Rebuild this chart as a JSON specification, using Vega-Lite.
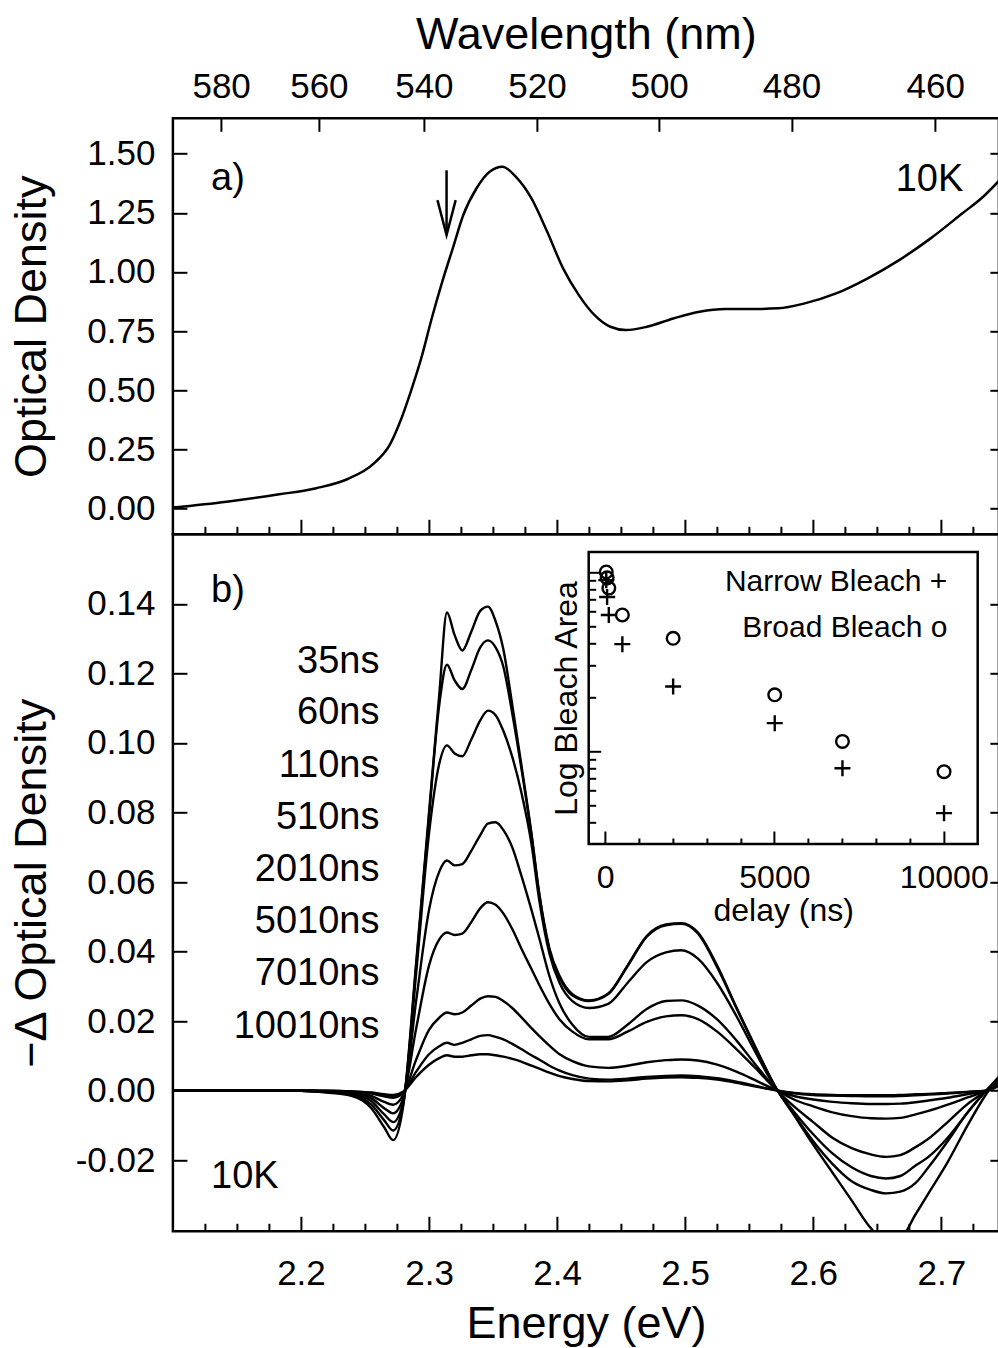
{
"$schema":"https://vega.github.io/schema/vega-lite/v6.json",
"background":"white",
"padding":{"left":7.9,"top":10.3,"right":0,"bottom":0},
"spacing":0,
"bounds":"flush",
"config":{
 "font":"Liberation Sans",
 "view":{"stroke":"black","strokeWidth":2.5},
 "axis":{"grid":false,"domain":false,"labelFont":"Liberation Sans","labelFontSize":35,"labelColor":"black","tickColor":"black","tickWidth":2,"titleFont":"Liberation Sans","titleFontSize":45,"titleFontWeight":"normal","titleColor":"black","labelFlush":false,"labelOverlap":false,"labelBound":false},
 "text":{"font":"Liberation Sans","color":"black"}
},
"datasets":{
 "abs":[{"e":2.1,"od":0.003},{"e":2.142,"od":0.028},{"e":2.183,"od":0.059},{"e":2.212,"od":0.085},{"e":2.2365,"od":0.124},{"e":2.257,"od":0.19},{"e":2.2693,"od":0.268},{"e":2.2775,"od":0.367},{"e":2.2857,"od":0.493},{"e":2.2939,"od":0.634},{"e":2.3021,"od":0.803},{"e":2.3103,"od":0.958},{"e":2.3185,"od":1.099},{"e":2.3267,"od":1.24},{"e":2.337,"od":1.353},{"e":2.3473,"od":1.424},{"e":2.3574,"od":1.445},{"e":2.3677,"od":1.403},{"e":2.38,"od":1.311},{"e":2.3923,"od":1.17},{"e":2.4047,"od":1.015},{"e":2.417,"od":0.902},{"e":2.4293,"od":0.817},{"e":2.4416,"od":0.768},{"e":2.4538,"od":0.754},{"e":2.4702,"od":0.768},{"e":2.4908,"od":0.803},{"e":2.5113,"od":0.832},{"e":2.5318,"od":0.843},{"e":2.5523,"od":0.843},{"e":2.5728,"od":0.846},{"e":2.5934,"od":0.867},{"e":2.6179,"od":0.909},{"e":2.6426,"od":0.973},{"e":2.6671,"od":1.05},{"e":2.6917,"od":1.142},{"e":2.7163,"od":1.247},{"e":2.7327,"od":1.318},{"e":2.745,"od":1.385}],
 "arrow":[{"e":2.3137,"top":1.43,"tip":1.156}],
 "annAL":[{"label":"a)","x":2.1298,"y":1.395}],
 "annAR":[{"label":"10K","x":2.7172,"y":1.387}],
 "nsLab":[{"label":"35ns","x":2.2613,"y":0.1234},{"label":"60ns","x":2.2613,"y":0.1085},{"label":"110ns","x":2.2613,"y":0.0933},{"label":"510ns","x":2.2613,"y":0.0783},{"label":"2010ns","x":2.2613,"y":0.0634},{"label":"5010ns","x":2.2613,"y":0.0484},{"label":"7010ns","x":2.2613,"y":0.0335},{"label":"10010ns","x":2.2613,"y":0.0182}],
 "bLab":[{"label":"b)","x":2.1298,"y":0.1438},{"label":"10K","x":2.1298,"y":-0.0248}],
 "ins":[{"s":"Broad","d":35,"a":10.0},{"s":"Broad","d":60,"a":9.27},{"s":"Broad","d":110,"a":8.13},{"s":"Broad","d":510,"a":5.75},{"s":"Broad","d":2010,"a":4.26},{"s":"Broad","d":5010,"a":2.06},{"s":"Broad","d":7010,"a":1.13},{"s":"Broad","d":10010,"a":0.766},{"s":"Narrow","d":35,"a":9.0},{"s":"Narrow","d":60,"a":7.25},{"s":"Narrow","d":110,"a":5.75},{"s":"Narrow","d":510,"a":3.95},{"s":"Narrow","d":2010,"a":2.29},{"s":"Narrow","d":5010,"a":1.43},{"s":"Narrow","d":7010,"a":0.8},{"s":"Narrow","d":10010,"a":0.449}],
 "insLab":[{"label":"Narrow Bleach +","d":10109,"a":8.83},{"label":"Broad Bleach o","d":10109,"a":4.87}],
 "spec":[
{"t":"35ns","e":2.1,"v":0},{"t":"35ns","e":2.15,"v":0},{"t":"35ns","e":2.2,"v":0},{"t":"35ns","e":2.22,"v":-0.0005},{"t":"35ns","e":2.24,"v":-0.0015},{"t":"35ns","e":2.255,"v":-0.005},{"t":"35ns","e":2.265,"v":-0.0105},{"t":"35ns","e":2.272,"v":-0.0142},{"t":"35ns","e":2.28,"v":-0.004},{"t":"35ns","e":2.29,"v":0.037},{"t":"35ns","e":2.3,"v":0.08},{"t":"35ns","e":2.308,"v":0.114},{"t":"35ns","e":2.314,"v":0.1375},{"t":"35ns","e":2.32,"v":0.131},{"t":"35ns","e":2.326,"v":0.1266},{"t":"35ns","e":2.333,"v":0.132},{"t":"35ns","e":2.34,"v":0.138},{"t":"35ns","e":2.346,"v":0.1392},{"t":"35ns","e":2.352,"v":0.135},{"t":"35ns","e":2.358,"v":0.127},{"t":"35ns","e":2.365,"v":0.111},{"t":"35ns","e":2.372,"v":0.094},{"t":"35ns","e":2.38,"v":0.074},{"t":"35ns","e":2.386,"v":0.057},{"t":"35ns","e":2.394,"v":0.041},{"t":"35ns","e":2.402,"v":0.033},{"t":"35ns","e":2.412,"v":0.0278},{"t":"35ns","e":2.425,"v":0.026},{"t":"35ns","e":2.44,"v":0.028},{"t":"35ns","e":2.455,"v":0.036},{"t":"35ns","e":2.47,"v":0.0445},{"t":"35ns","e":2.485,"v":0.0478},{"t":"35ns","e":2.497,"v":0.0482},{"t":"35ns","e":2.51,"v":0.0455},{"t":"35ns","e":2.525,"v":0.036},{"t":"35ns","e":2.54,"v":0.024},{"t":"35ns","e":2.555,"v":0.0125},{"t":"35ns","e":2.57,"v":0.0015},{"t":"35ns","e":2.585,"v":-0.007},{"t":"35ns","e":2.6,"v":-0.0155},{"t":"35ns","e":2.615,"v":-0.0235},{"t":"35ns","e":2.63,"v":-0.0315},{"t":"35ns","e":2.645,"v":-0.0395},{"t":"35ns","e":2.657,"v":-0.0435},{"t":"35ns","e":2.668,"v":-0.0425},{"t":"35ns","e":2.68,"v":-0.0355},{"t":"35ns","e":2.69,"v":-0.0295},{"t":"35ns","e":2.705,"v":-0.0205},{"t":"35ns","e":2.72,"v":-0.0103},{"t":"35ns","e":2.735,"v":-0.001},{"t":"35ns","e":2.745,"v":0.004},
{"t":"60ns","e":2.1,"v":0},{"t":"60ns","e":2.15,"v":0},{"t":"60ns","e":2.2,"v":0},{"t":"60ns","e":2.22,"v":-0.0004},{"t":"60ns","e":2.24,"v":-0.0012},{"t":"60ns","e":2.255,"v":-0.004},{"t":"60ns","e":2.265,"v":-0.0085},{"t":"60ns","e":2.272,"v":-0.0114},{"t":"60ns","e":2.28,"v":-0.0035},{"t":"60ns","e":2.29,"v":0.036},{"t":"60ns","e":2.3,"v":0.079},{"t":"60ns","e":2.308,"v":0.111},{"t":"60ns","e":2.314,"v":0.1225},{"t":"60ns","e":2.32,"v":0.118},{"t":"60ns","e":2.326,"v":0.1155},{"t":"60ns","e":2.333,"v":0.121},{"t":"60ns","e":2.34,"v":0.1275},{"t":"60ns","e":2.346,"v":0.1295},{"t":"60ns","e":2.352,"v":0.1275},{"t":"60ns","e":2.358,"v":0.122},{"t":"60ns","e":2.365,"v":0.1085},{"t":"60ns","e":2.372,"v":0.093},{"t":"60ns","e":2.38,"v":0.0735},{"t":"60ns","e":2.386,"v":0.0565},{"t":"60ns","e":2.394,"v":0.0405},{"t":"60ns","e":2.402,"v":0.0325},{"t":"60ns","e":2.412,"v":0.0274},{"t":"60ns","e":2.425,"v":0.0258},{"t":"60ns","e":2.44,"v":0.0278},{"t":"60ns","e":2.455,"v":0.0358},{"t":"60ns","e":2.47,"v":0.0443},{"t":"60ns","e":2.485,"v":0.0476},{"t":"60ns","e":2.497,"v":0.048},{"t":"60ns","e":2.51,"v":0.0452},{"t":"60ns","e":2.525,"v":0.0355},{"t":"60ns","e":2.54,"v":0.0238},{"t":"60ns","e":2.555,"v":0.0122},{"t":"60ns","e":2.57,"v":0.0013},{"t":"60ns","e":2.585,"v":-0.0068},{"t":"60ns","e":2.6,"v":-0.0145},{"t":"60ns","e":2.615,"v":-0.021},{"t":"60ns","e":2.63,"v":-0.026},{"t":"60ns","e":2.645,"v":-0.0285},{"t":"60ns","e":2.657,"v":-0.0295},{"t":"60ns","e":2.668,"v":-0.029},{"t":"60ns","e":2.68,"v":-0.0265},{"t":"60ns","e":2.69,"v":-0.022},{"t":"60ns","e":2.705,"v":-0.0145},{"t":"60ns","e":2.72,"v":-0.0065},{"t":"60ns","e":2.735,"v":0},{"t":"60ns","e":2.745,"v":0.004},
{"t":"110ns","e":2.1,"v":0},{"t":"110ns","e":2.15,"v":0},{"t":"110ns","e":2.2,"v":0},{"t":"110ns","e":2.22,"v":-0.0003},{"t":"110ns","e":2.24,"v":-0.001},{"t":"110ns","e":2.255,"v":-0.003},{"t":"110ns","e":2.265,"v":-0.0068},{"t":"110ns","e":2.272,"v":-0.009},{"t":"110ns","e":2.28,"v":-0.003},{"t":"110ns","e":2.29,"v":0.034},{"t":"110ns","e":2.3,"v":0.074},{"t":"110ns","e":2.308,"v":0.094},{"t":"110ns","e":2.314,"v":0.0993},{"t":"110ns","e":2.32,"v":0.097},{"t":"110ns","e":2.326,"v":0.0962},{"t":"110ns","e":2.333,"v":0.101},{"t":"110ns","e":2.34,"v":0.1065},{"t":"110ns","e":2.346,"v":0.1093},{"t":"110ns","e":2.352,"v":0.108},{"t":"110ns","e":2.358,"v":0.1035},{"t":"110ns","e":2.365,"v":0.096},{"t":"110ns","e":2.372,"v":0.086},{"t":"110ns","e":2.38,"v":0.071},{"t":"110ns","e":2.386,"v":0.055},{"t":"110ns","e":2.394,"v":0.0395},{"t":"110ns","e":2.402,"v":0.031},{"t":"110ns","e":2.412,"v":0.0258},{"t":"110ns","e":2.425,"v":0.0238},{"t":"110ns","e":2.44,"v":0.025},{"t":"110ns","e":2.455,"v":0.031},{"t":"110ns","e":2.47,"v":0.037},{"t":"110ns","e":2.485,"v":0.0398},{"t":"110ns","e":2.497,"v":0.0404},{"t":"110ns","e":2.51,"v":0.038},{"t":"110ns","e":2.525,"v":0.031},{"t":"110ns","e":2.54,"v":0.0215},{"t":"110ns","e":2.555,"v":0.011},{"t":"110ns","e":2.57,"v":0.0012},{"t":"110ns","e":2.585,"v":-0.006},{"t":"110ns","e":2.6,"v":-0.0125},{"t":"110ns","e":2.615,"v":-0.018},{"t":"110ns","e":2.63,"v":-0.022},{"t":"110ns","e":2.645,"v":-0.0245},{"t":"110ns","e":2.657,"v":-0.0252},{"t":"110ns","e":2.668,"v":-0.0245},{"t":"110ns","e":2.68,"v":-0.0215},{"t":"110ns","e":2.69,"v":-0.019},{"t":"110ns","e":2.705,"v":-0.0135},{"t":"110ns","e":2.72,"v":-0.0065},{"t":"110ns","e":2.735,"v":0},{"t":"110ns","e":2.745,"v":0.003},
{"t":"510ns","e":2.1,"v":0},{"t":"510ns","e":2.15,"v":0},{"t":"510ns","e":2.2,"v":0},{"t":"510ns","e":2.22,"v":-0.0002},{"t":"510ns","e":2.24,"v":-0.0008},{"t":"510ns","e":2.255,"v":-0.0022},{"t":"510ns","e":2.265,"v":-0.005},{"t":"510ns","e":2.272,"v":-0.0065},{"t":"510ns","e":2.28,"v":-0.002},{"t":"510ns","e":2.29,"v":0.026},{"t":"510ns","e":2.3,"v":0.052},{"t":"510ns","e":2.308,"v":0.063},{"t":"510ns","e":2.314,"v":0.0662},{"t":"510ns","e":2.32,"v":0.0648},{"t":"510ns","e":2.326,"v":0.0652},{"t":"510ns","e":2.333,"v":0.069},{"t":"510ns","e":2.34,"v":0.0735},{"t":"510ns","e":2.346,"v":0.0768},{"t":"510ns","e":2.352,"v":0.0772},{"t":"510ns","e":2.358,"v":0.075},{"t":"510ns","e":2.365,"v":0.07},{"t":"510ns","e":2.372,"v":0.062},{"t":"510ns","e":2.38,"v":0.052},{"t":"510ns","e":2.386,"v":0.044},{"t":"510ns","e":2.394,"v":0.033},{"t":"510ns","e":2.402,"v":0.025},{"t":"510ns","e":2.412,"v":0.019},{"t":"510ns","e":2.425,"v":0.0155},{"t":"510ns","e":2.44,"v":0.0155},{"t":"510ns","e":2.455,"v":0.019},{"t":"510ns","e":2.47,"v":0.0235},{"t":"510ns","e":2.485,"v":0.0258},{"t":"510ns","e":2.497,"v":0.026},{"t":"510ns","e":2.51,"v":0.0245},{"t":"510ns","e":2.525,"v":0.0205},{"t":"510ns","e":2.54,"v":0.0145},{"t":"510ns","e":2.555,"v":0.0075},{"t":"510ns","e":2.57,"v":0.0008},{"t":"510ns","e":2.585,"v":-0.0045},{"t":"510ns","e":2.6,"v":-0.009},{"t":"510ns","e":2.615,"v":-0.0135},{"t":"510ns","e":2.63,"v":-0.0165},{"t":"510ns","e":2.645,"v":-0.0183},{"t":"510ns","e":2.657,"v":-0.019},{"t":"510ns","e":2.668,"v":-0.0185},{"t":"510ns","e":2.68,"v":-0.0162},{"t":"510ns","e":2.69,"v":-0.0138},{"t":"510ns","e":2.705,"v":-0.009},{"t":"510ns","e":2.72,"v":-0.004},{"t":"510ns","e":2.735,"v":0},{"t":"510ns","e":2.745,"v":0.003},
{"t":"2010ns","e":2.1,"v":0},{"t":"2010ns","e":2.15,"v":0},{"t":"2010ns","e":2.2,"v":0},{"t":"2010ns","e":2.22,"v":-0.0002},{"t":"2010ns","e":2.24,"v":-0.0006},{"t":"2010ns","e":2.255,"v":-0.0015},{"t":"2010ns","e":2.265,"v":-0.0032},{"t":"2010ns","e":2.272,"v":-0.004},{"t":"2010ns","e":2.28,"v":-0.001},{"t":"2010ns","e":2.29,"v":0.018},{"t":"2010ns","e":2.3,"v":0.036},{"t":"2010ns","e":2.308,"v":0.0435},{"t":"2010ns","e":2.314,"v":0.0455},{"t":"2010ns","e":2.32,"v":0.0448},{"t":"2010ns","e":2.326,"v":0.0452},{"t":"2010ns","e":2.333,"v":0.0485},{"t":"2010ns","e":2.34,"v":0.0525},{"t":"2010ns","e":2.346,"v":0.0542},{"t":"2010ns","e":2.352,"v":0.0535},{"t":"2010ns","e":2.358,"v":0.051},{"t":"2010ns","e":2.365,"v":0.0465},{"t":"2010ns","e":2.372,"v":0.041},{"t":"2010ns","e":2.38,"v":0.035},{"t":"2010ns","e":2.386,"v":0.0305},{"t":"2010ns","e":2.394,"v":0.025},{"t":"2010ns","e":2.402,"v":0.0205},{"t":"2010ns","e":2.412,"v":0.017},{"t":"2010ns","e":2.425,"v":0.0148},{"t":"2010ns","e":2.44,"v":0.0148},{"t":"2010ns","e":2.455,"v":0.017},{"t":"2010ns","e":2.47,"v":0.0198},{"t":"2010ns","e":2.485,"v":0.0214},{"t":"2010ns","e":2.497,"v":0.0217},{"t":"2010ns","e":2.51,"v":0.0206},{"t":"2010ns","e":2.525,"v":0.017},{"t":"2010ns","e":2.54,"v":0.012},{"t":"2010ns","e":2.555,"v":0.0065},{"t":"2010ns","e":2.57,"v":0.0008},{"t":"2010ns","e":2.585,"v":-0.0025},{"t":"2010ns","e":2.6,"v":-0.0045},{"t":"2010ns","e":2.615,"v":-0.0062},{"t":"2010ns","e":2.63,"v":-0.0073},{"t":"2010ns","e":2.645,"v":-0.0079},{"t":"2010ns","e":2.657,"v":-0.008},{"t":"2010ns","e":2.668,"v":-0.0078},{"t":"2010ns","e":2.68,"v":-0.0068},{"t":"2010ns","e":2.69,"v":-0.0058},{"t":"2010ns","e":2.705,"v":-0.004},{"t":"2010ns","e":2.72,"v":-0.002},{"t":"2010ns","e":2.735,"v":0},{"t":"2010ns","e":2.745,"v":0.002},
{"t":"5010ns","e":2.1,"v":0},{"t":"5010ns","e":2.15,"v":0},{"t":"5010ns","e":2.2,"v":0},{"t":"5010ns","e":2.22,"v":-0.0001},{"t":"5010ns","e":2.24,"v":-0.0003},{"t":"5010ns","e":2.255,"v":-0.0008},{"t":"5010ns","e":2.265,"v":-0.0016},{"t":"5010ns","e":2.272,"v":-0.002},{"t":"5010ns","e":2.28,"v":-0.0005},{"t":"5010ns","e":2.29,"v":0.009},{"t":"5010ns","e":2.3,"v":0.0175},{"t":"5010ns","e":2.308,"v":0.021},{"t":"5010ns","e":2.314,"v":0.0225},{"t":"5010ns","e":2.32,"v":0.022},{"t":"5010ns","e":2.326,"v":0.0225},{"t":"5010ns","e":2.333,"v":0.0245},{"t":"5010ns","e":2.34,"v":0.0265},{"t":"5010ns","e":2.346,"v":0.0272},{"t":"5010ns","e":2.352,"v":0.027},{"t":"5010ns","e":2.358,"v":0.0258},{"t":"5010ns","e":2.365,"v":0.0238},{"t":"5010ns","e":2.372,"v":0.0212},{"t":"5010ns","e":2.38,"v":0.018},{"t":"5010ns","e":2.386,"v":0.0158},{"t":"5010ns","e":2.394,"v":0.013},{"t":"5010ns","e":2.402,"v":0.0105},{"t":"5010ns","e":2.412,"v":0.0085},{"t":"5010ns","e":2.425,"v":0.007},{"t":"5010ns","e":2.44,"v":0.0066},{"t":"5010ns","e":2.455,"v":0.0072},{"t":"5010ns","e":2.47,"v":0.0082},{"t":"5010ns","e":2.485,"v":0.0088},{"t":"5010ns","e":2.497,"v":0.009},{"t":"5010ns","e":2.51,"v":0.0087},{"t":"5010ns","e":2.525,"v":0.0075},{"t":"5010ns","e":2.54,"v":0.0055},{"t":"5010ns","e":2.555,"v":0.003},{"t":"5010ns","e":2.57,"v":0.0004},{"t":"5010ns","e":2.585,"v":-0.0015},{"t":"5010ns","e":2.6,"v":-0.0025},{"t":"5010ns","e":2.615,"v":-0.0032},{"t":"5010ns","e":2.63,"v":-0.0036},{"t":"5010ns","e":2.645,"v":-0.0038},{"t":"5010ns","e":2.657,"v":-0.0038},{"t":"5010ns","e":2.668,"v":-0.0037},{"t":"5010ns","e":2.68,"v":-0.0033},{"t":"5010ns","e":2.69,"v":-0.0028},{"t":"5010ns","e":2.705,"v":-0.002},{"t":"5010ns","e":2.72,"v":-0.001},{"t":"5010ns","e":2.735,"v":0},{"t":"5010ns","e":2.745,"v":0.002},
{"t":"7010ns","e":2.1,"v":0},{"t":"7010ns","e":2.15,"v":0},{"t":"7010ns","e":2.2,"v":0},{"t":"7010ns","e":2.22,"v":0},{"t":"7010ns","e":2.24,"v":-0.0002},{"t":"7010ns","e":2.255,"v":-0.0006},{"t":"7010ns","e":2.265,"v":-0.0012},{"t":"7010ns","e":2.272,"v":-0.0015},{"t":"7010ns","e":2.28,"v":-0.0003},{"t":"7010ns","e":2.29,"v":0.0055},{"t":"7010ns","e":2.3,"v":0.0105},{"t":"7010ns","e":2.308,"v":0.0128},{"t":"7010ns","e":2.314,"v":0.0138},{"t":"7010ns","e":2.32,"v":0.0132},{"t":"7010ns","e":2.326,"v":0.0138},{"t":"7010ns","e":2.333,"v":0.0148},{"t":"7010ns","e":2.34,"v":0.0158},{"t":"7010ns","e":2.346,"v":0.016},{"t":"7010ns","e":2.352,"v":0.0155},{"t":"7010ns","e":2.358,"v":0.0148},{"t":"7010ns","e":2.365,"v":0.0135},{"t":"7010ns","e":2.372,"v":0.012},{"t":"7010ns","e":2.38,"v":0.0102},{"t":"7010ns","e":2.386,"v":0.009},{"t":"7010ns","e":2.394,"v":0.0072},{"t":"7010ns","e":2.402,"v":0.0058},{"t":"7010ns","e":2.412,"v":0.0045},{"t":"7010ns","e":2.425,"v":0.0035},{"t":"7010ns","e":2.44,"v":0.0032},{"t":"7010ns","e":2.455,"v":0.0035},{"t":"7010ns","e":2.47,"v":0.004},{"t":"7010ns","e":2.485,"v":0.0043},{"t":"7010ns","e":2.497,"v":0.0044},{"t":"7010ns","e":2.51,"v":0.0042},{"t":"7010ns","e":2.525,"v":0.0036},{"t":"7010ns","e":2.54,"v":0.0026},{"t":"7010ns","e":2.555,"v":0.0014},{"t":"7010ns","e":2.57,"v":0.0002},{"t":"7010ns","e":2.585,"v":-0.0007},{"t":"7010ns","e":2.6,"v":-0.0012},{"t":"7010ns","e":2.615,"v":-0.0014},{"t":"7010ns","e":2.63,"v":-0.0015},{"t":"7010ns","e":2.645,"v":-0.0016},{"t":"7010ns","e":2.657,"v":-0.0016},{"t":"7010ns","e":2.668,"v":-0.0015},{"t":"7010ns","e":2.68,"v":-0.0013},{"t":"7010ns","e":2.69,"v":-0.0011},{"t":"7010ns","e":2.705,"v":-0.0008},{"t":"7010ns","e":2.72,"v":-0.0004},{"t":"7010ns","e":2.735,"v":0},{"t":"7010ns","e":2.745,"v":0.0015},
{"t":"10010ns","e":2.1,"v":0},{"t":"10010ns","e":2.15,"v":0},{"t":"10010ns","e":2.2,"v":0},{"t":"10010ns","e":2.22,"v":0},{"t":"10010ns","e":2.24,"v":-0.0002},{"t":"10010ns","e":2.255,"v":-0.0005},{"t":"10010ns","e":2.265,"v":-0.001},{"t":"10010ns","e":2.272,"v":-0.0012},{"t":"10010ns","e":2.28,"v":-0.0002},{"t":"10010ns","e":2.29,"v":0.004},{"t":"10010ns","e":2.3,"v":0.0075},{"t":"10010ns","e":2.308,"v":0.0094},{"t":"10010ns","e":2.314,"v":0.0102},{"t":"10010ns","e":2.32,"v":0.0098},{"t":"10010ns","e":2.326,"v":0.0098},{"t":"10010ns","e":2.333,"v":0.0102},{"t":"10010ns","e":2.34,"v":0.0105},{"t":"10010ns","e":2.346,"v":0.0105},{"t":"10010ns","e":2.352,"v":0.0102},{"t":"10010ns","e":2.358,"v":0.0098},{"t":"10010ns","e":2.365,"v":0.0092},{"t":"10010ns","e":2.372,"v":0.0084},{"t":"10010ns","e":2.38,"v":0.0072},{"t":"10010ns","e":2.386,"v":0.0064},{"t":"10010ns","e":2.394,"v":0.0052},{"t":"10010ns","e":2.402,"v":0.0042},{"t":"10010ns","e":2.412,"v":0.0034},{"t":"10010ns","e":2.425,"v":0.0028},{"t":"10010ns","e":2.44,"v":0.0027},{"t":"10010ns","e":2.455,"v":0.003},{"t":"10010ns","e":2.47,"v":0.0035},{"t":"10010ns","e":2.485,"v":0.0038},{"t":"10010ns","e":2.497,"v":0.0039},{"t":"10010ns","e":2.51,"v":0.0037},{"t":"10010ns","e":2.525,"v":0.0032},{"t":"10010ns","e":2.54,"v":0.0023},{"t":"10010ns","e":2.555,"v":0.0012},{"t":"10010ns","e":2.57,"v":0.0002},{"t":"10010ns","e":2.585,"v":-0.0006},{"t":"10010ns","e":2.6,"v":-0.001},{"t":"10010ns","e":2.615,"v":-0.0012},{"t":"10010ns","e":2.63,"v":-0.0013},{"t":"10010ns","e":2.645,"v":-0.0013},{"t":"10010ns","e":2.657,"v":-0.0013},{"t":"10010ns","e":2.668,"v":-0.0012},{"t":"10010ns","e":2.68,"v":-0.001},{"t":"10010ns","e":2.69,"v":-0.0009},{"t":"10010ns","e":2.705,"v":-0.0006},{"t":"10010ns","e":2.72,"v":-0.0003},{"t":"10010ns","e":2.735,"v":0},{"t":"10010ns","e":2.745,"v":0.0015}
 ]
},
"vconcat":[
 {
  "width":826,"height":416,
  "layer":[
   {"data":{"name":"abs"},
    "mark":{"type":"line","color":"black","strokeWidth":2.5,"interpolate":"monotone","clip":true},
    "encoding":{
     "x":{"field":"e","type":"quantitative","scale":{"domain":[2.1,2.745],"nice":false,"zero":false},
      "axis":{"orient":"top","values":[2.13766,2.214,2.296,2.38431,2.47968,2.583,2.6953],"labelExpr":"format(1239.84/datum.value,'.0f')","tickSize":-13,"labelPadding":27,"title":"Wavelength (nm)","titlePadding":12}},
     "y":{"field":"od","type":"quantitative","scale":{"domain":[-0.11,1.65],"nice":false,"zero":false},
      "axis":{"orient":"left","values":[0,0.25,0.5,0.75,1,1.25,1.5],"format":".2f","tickSize":-14,"labelPadding":32,"title":"Optical Density","titlePadding":32}}}},
   {"data":{"name":"arrow"},
    "mark":{"type":"rule","color":"black","strokeWidth":2.5},
    "encoding":{
     "x":{"field":"e","type":"quantitative","scale":{"domain":[2.1,2.745],"nice":false,"zero":false},
      "axis":{"orient":"bottom","values":[2.2,2.3,2.4,2.5,2.6,2.7],"labels":false,"tickSize":-15,"title":null}},
     "y":{"field":"top","type":"quantitative","scale":{"domain":[-0.11,1.65],"nice":false,"zero":false},
      "axis":{"orient":"right","values":[0,0.25,0.5,0.75,1,1.25,1.5],"labels":false,"tickSize":-9,"title":null}},
     "y2":{"field":"tip"}}},
   {"data":{"name":"arrow"},
    "mark":{"type":"point","shape":"M-0.26,-1L0,0L0.26,-1","filled":false,"color":"black","strokeWidth":2.5,"size":4900,"opacity":1},
    "encoding":{
     "x":{"field":"e","type":"quantitative","scale":{"domain":[2.1,2.745],"nice":false,"zero":false},
      "axis":{"orient":"bottom","values":[2.125,2.15,2.175,2.225,2.25,2.275,2.325,2.35,2.375,2.425,2.45,2.475,2.525,2.55,2.575,2.625,2.65,2.675,2.725],"labels":false,"tickSize":-8,"title":null}},
     "y":{"field":"tip","type":"quantitative","scale":{"domain":[-0.11,1.65],"nice":false,"zero":false},"axis":null}}},
   {"data":{"name":"annAL"},
    "mark":{"type":"text","fontSize":38,"align":"left","baseline":"middle"},
    "encoding":{
     "x":{"field":"x","type":"quantitative","scale":{"domain":[2.1,2.745],"nice":false,"zero":false},"axis":null},
     "y":{"field":"y","type":"quantitative","scale":{"domain":[-0.11,1.65],"nice":false,"zero":false},"axis":null},
     "text":{"field":"label"}}},
   {"data":{"name":"annAR"},
    "mark":{"type":"text","fontSize":38,"align":"right","baseline":"middle"},
    "encoding":{
     "x":{"field":"x","type":"quantitative","scale":{"domain":[2.1,2.745],"nice":false,"zero":false},"axis":null},
     "y":{"field":"y","type":"quantitative","scale":{"domain":[-0.11,1.65],"nice":false,"zero":false},"axis":null},
     "text":{"field":"label"}}}
  ],
  "resolve":{"scale":{"x":"independent","y":"independent"}}
 },
 {
  "width":826,"height":697,
  "layer":[
   {"data":{"name":"spec"},
    "mark":{"type":"line","color":"black","strokeWidth":2.4,"interpolate":"monotone","clip":true},
    "encoding":{
     "x":{"field":"e","type":"quantitative","scale":{"domain":[2.1,2.745],"nice":false,"zero":false},
      "axis":{"orient":"bottom","values":[2.2,2.3,2.4,2.5,2.6,2.7],"format":".1f","tickSize":-15,"labelPadding":40,"title":"Energy (eV)","titlePadding":10}},
     "y":{"field":"v","type":"quantitative","scale":{"domain":[-0.0404,0.16],"nice":false,"zero":false},
      "axis":{"orient":"left","values":[-0.02,0,0.02,0.04,0.06,0.08,0.1,0.12,0.14],"labelExpr":"replace(format(datum.value,'.2f'),'−','-')","tickSize":-14,"labelPadding":32,"title":"−Δ Optical Density","titlePadding":20.3}},
     "detail":{"field":"t","type":"nominal"}}},
   {"data":{"name":"nsLab"},
    "mark":{"type":"text","fontSize":38,"align":"right","baseline":"middle"},
    "encoding":{
     "x":{"field":"x","type":"quantitative","scale":{"domain":[2.1,2.745],"nice":false,"zero":false},
      "axis":{"orient":"bottom","values":[2.125,2.15,2.175,2.225,2.25,2.275,2.325,2.35,2.375,2.425,2.45,2.475,2.525,2.55,2.575,2.625,2.65,2.675,2.725],"labels":false,"tickSize":-8,"title":null}},
     "y":{"field":"y","type":"quantitative","scale":{"domain":[-0.0404,0.16],"nice":false,"zero":false},
      "axis":{"orient":"right","values":[-0.02,0,0.02,0.04,0.06,0.08,0.1,0.12,0.14],"labels":false,"tickSize":-9,"title":null}},
     "text":{"field":"label"}}},
   {"data":{"name":"bLab"},
    "mark":{"type":"text","fontSize":38,"align":"left","baseline":"middle"},
    "encoding":{
     "x":{"field":"x","type":"quantitative","scale":{"domain":[2.1,2.745],"nice":false,"zero":false},"axis":null},
     "y":{"field":"y","type":"quantitative","scale":{"domain":[-0.0404,0.16],"nice":false,"zero":false},"axis":null},
     "text":{"field":"label"}}},
   {"data":{"values":[{}]},
    "mark":{"type":"rect","fill":"white","stroke":"black","strokeWidth":2.5},
    "encoding":{
     "x":{"datum":-484,"type":"quantitative","scale":{"domain":[-484,11004],"range":[415.8,804.8],"nice":false,"zero":false},"axis":null},
     "x2":{"datum":11004},
     "y":{"datum":0.302,"type":"quantitative","scale":{"type":"log","domain":[0.302,12.93],"range":[309.7,17.7],"nice":false},"axis":null},
     "y2":{"datum":12.93}}},
   {"data":{"name":"ins"},
    "mark":{"type":"point","filled":false,"color":"black","strokeWidth":2.4,"opacity":1},
    "encoding":{
     "x":{"field":"d","type":"quantitative","scale":{"domain":[-484,11004],"range":[415.8,804.8],"nice":false,"zero":false},
      "axis":{"orient":"bottom","offset":-387.3,"zindex":1,"values":[0,5000,10000],"format":"d","tickSize":-13,"labelFontSize":32,"labelPadding":32,"title":"delay (ns)","titleFontSize":32,"titlePadding":2}},
     "y":{"field":"a","type":"quantitative","scale":{"type":"log","domain":[0.302,12.93],"range":[309.7,17.7],"nice":false},
      "axis":{"orient":"left","offset":-415.8,"zindex":1,"values":[1,10],"tickSize":-12,"labels":false,"title":"Log Bleach Area","titleFontSize":32,"titlePadding":4}},
     "shape":{"field":"s","type":"nominal","scale":{"domain":["Narrow","Broad"],"range":["M-1,0L1,0M0,-1L0,1","circle"]},"legend":null},
     "size":{"field":"s","type":"nominal","scale":{"domain":["Narrow","Broad"],"range":[256,160]},"legend":null}}},
   {"data":{"name":"insLab"},
    "mark":{"type":"text","fontSize":30,"align":"right","baseline":"middle"},
    "encoding":{
     "x":{"field":"d","type":"quantitative","scale":{"domain":[-484,11004],"range":[415.8,804.8],"nice":false,"zero":false},
      "axis":{"orient":"bottom","offset":-387.3,"zindex":1,"values":[1000,2000,3000,4000,6000,7000,8000,9000],"labels":false,"tickSize":-6,"title":null}},
     "y":{"field":"a","type":"quantitative","scale":{"type":"log","domain":[0.302,12.93],"range":[309.7,17.7],"nice":false},
      "axis":{"orient":"left","offset":-415.8,"zindex":1,"values":[0.4,0.5,0.6,0.7,0.8,0.9,2,3,4,5,6,7,8,9],"labels":false,"tickSize":-7,"title":null}},
     "text":{"field":"label"}}}
  ],
  "resolve":{"scale":{"x":"independent","y":"independent"}}
 }
]
}
